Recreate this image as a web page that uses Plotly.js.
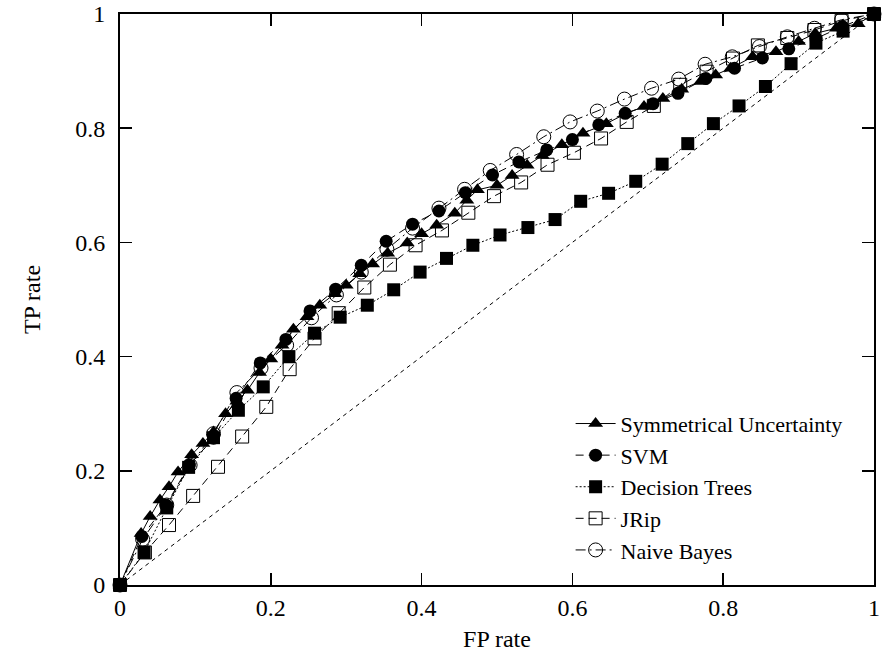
<!DOCTYPE html>
<html>
<head>
<meta charset="utf-8">
<script src="https://cdn.plot.ly/plotly-3.0.1.min.js"></script>
<style>html,body{margin:0;padding:0;background:#fff;}#chart{width:882px;height:658px;}</style>
</head>
<body>
<div id="chart"></div>
<script>
// Symmetrical Uncertainty (triangles, solid)
const suX = [0, 0.028, 0.040, 0.053, 0.065, 0.077, 0.095, 0.110, 0.124, 0.140, 0.155, 0.169, 0.185, 0.200, 0.215, 0.230, 0.248, 0.265, 0.285, 0.300, 0.318, 0.335, 0.355, 0.381, 0.400, 0.420, 0.444, 0.460, 0.474, 0.500, 0.520, 0.540, 0.560, 0.586, 0.614, 0.645, 0.670, 0.695, 0.720, 0.745, 0.770, 0.790, 0.810, 0.839, 0.870, 0.900, 0.922, 0.950, 0.979, 1];
const suY = [0, 0.090, 0.120, 0.149, 0.172, 0.198, 0.228, 0.248, 0.268, 0.300, 0.322, 0.341, 0.372, 0.396, 0.420, 0.448, 0.470, 0.490, 0.510, 0.525, 0.545, 0.562, 0.581, 0.599, 0.615, 0.630, 0.651, 0.674, 0.692, 0.700, 0.717, 0.735, 0.752, 0.771, 0.791, 0.808, 0.825, 0.838, 0.852, 0.868, 0.882, 0.893, 0.905, 0.925, 0.934, 0.952, 0.966, 0.975, 0.983, 1];
// SVM (filled circles, dashed)
const svmX = [0, 0.029, 0.061, 0.092, 0.124, 0.154, 0.186, 0.220, 0.252, 0.286, 0.320, 0.353, 0.388, 0.423, 0.458, 0.494, 0.529, 0.566, 0.600, 0.635, 0.670, 0.707, 0.740, 0.777, 0.815, 0.852, 0.887, 0.923, 0.958, 1];
const svmY = [0, 0.085, 0.140, 0.210, 0.257, 0.327, 0.389, 0.430, 0.480, 0.518, 0.560, 0.602, 0.632, 0.655, 0.687, 0.718, 0.741, 0.762, 0.780, 0.806, 0.826, 0.843, 0.861, 0.887, 0.905, 0.923, 0.939, 0.957, 0.978, 1];
// Decision Trees (filled squares, dotted)
const dtX = [0, 0.032, 0.062, 0.091, 0.124, 0.157, 0.190, 0.224, 0.258, 0.292, 0.328, 0.363, 0.398, 0.433, 0.468, 0.504, 0.541, 0.577, 0.611, 0.648, 0.684, 0.719, 0.753, 0.787, 0.821, 0.856, 0.890, 0.923, 0.959, 1];
const dtY = [0, 0.057, 0.135, 0.206, 0.258, 0.306, 0.347, 0.400, 0.441, 0.469, 0.490, 0.517, 0.548, 0.572, 0.595, 0.613, 0.626, 0.640, 0.672, 0.686, 0.707, 0.737, 0.773, 0.808, 0.839, 0.873, 0.913, 0.949, 0.970, 1];
// JRip (open squares, dashed)
const jripX = [0, 0.033, 0.065, 0.097, 0.130, 0.162, 0.194, 0.225, 0.258, 0.290, 0.324, 0.358, 0.392, 0.427, 0.462, 0.496, 0.532, 0.567, 0.602, 0.638, 0.672, 0.708, 0.743, 0.778, 0.813, 0.846, 0.885, 0.921, 0.957, 1];
const jripY = [0, 0.057, 0.105, 0.156, 0.207, 0.260, 0.312, 0.378, 0.432, 0.476, 0.521, 0.561, 0.595, 0.621, 0.652, 0.681, 0.705, 0.736, 0.757, 0.782, 0.811, 0.839, 0.876, 0.899, 0.922, 0.945, 0.958, 0.972, 0.988, 1];
// Naive Bayes (open circles, dash-dot)
const nbX = [0, 0.030, 0.062, 0.093, 0.124, 0.155, 0.187, 0.221, 0.254, 0.287, 0.320, 0.354, 0.388, 0.423, 0.457, 0.491, 0.526, 0.562, 0.597, 0.633, 0.669, 0.705, 0.741, 0.776, 0.812, 0.848, 0.885, 0.921, 0.957, 1];
const nbY = [0, 0.080, 0.140, 0.210, 0.265, 0.337, 0.380, 0.420, 0.468, 0.508, 0.548, 0.588, 0.625, 0.660, 0.693, 0.726, 0.754, 0.785, 0.811, 0.830, 0.851, 0.870, 0.886, 0.912, 0.925, 0.943, 0.960, 0.975, 0.990, 1];
// Random-classifier diagonal
const diagX = [0, 1];
const diagY = [0, 1];
const seriesNames = ['Symmetrical Uncertainty', 'SVM', 'Decision Trees', 'JRip', 'Naive Bayes'];
const tickVals = [0, 0.2, 0.4, 0.6, 0.8, 1];
const tickText = ['0', '0.2', '0.4', '0.6', '0.8', '1'];

const FONT = '"Liberation Serif", "Times New Roman", serif';
function tr(x, y, name, symbol, size, dash, lw) {
  return {
    x: x, y: y, name: name, type: 'scatter', mode: 'lines+markers',
    cliponaxis: false, hoverinfo: 'skip',
    line: {color: '#000', width: 1, dash: dash},
    marker: {symbol: symbol, size: size, color: '#000', line: {color: '#000', width: lw}}
  };
}
const data = [
  {x: diagX, y: diagY, name: 'random', type: 'scatter', mode: 'lines', showlegend: false,
   hoverinfo: 'skip', line: {color: '#000', width: 1, dash: '4px,4px'}},
  tr(suX, suY, seriesNames[0], 'triangle-up', 13, 'solid', 0),
  tr(svmX, svmY, seriesNames[1], 'circle', 13, '8px,5px', 0),
  tr(dtX, dtY, seriesNames[2], 'square', 13, '2px,2px', 0),
  tr(jripX, jripY, seriesNames[3], 'square-open', 13, '8px,5px', 1),
  tr(nbX, nbY, seriesNames[4], 'circle-open', 14, '10px,4px,2px,4px', 1)
];
const axisCommon = {
  range: [0, 1], tickvals: tickVals, ticktext: tickText,
  ticks: 'inside', ticklen: 12, tickwidth: 1.5, tickcolor: '#000',
  showline: true, linewidth: 2, linecolor: '#000', mirror: 'ticks',
  showgrid: false, zeroline: false, automargin: false,
  ticklabeloverflow: 'allow',
  tickfont: {family: FONT, size: 24, color: '#000'}
};
const layout = {
  width: 882, height: 658,
  margin: {l: 120, r: 8, t: 14, b: 73, pad: 0},
  paper_bgcolor: '#fff', plot_bgcolor: '#fff',
  font: {family: FONT, size: 24, color: '#000'},
  xaxis: Object.assign({}, axisCommon, {
    ticklabelstandoff: 0,
    title: {text: 'FP rate', font: {family: FONT, size: 24, color: '#000'}, standoff: 10}
  }),
  yaxis: Object.assign({}, axisCommon, {
    ticklabelstandoff: 8,
    title: {text: 'TP rate', font: {family: FONT, size: 24, color: '#000'}, standoff: 28}
  }),
  legend: {
    x: 0.965, xanchor: 'right', y: 0.025, yanchor: 'bottom',
    bgcolor: 'rgba(0,0,0,0)', borderwidth: 0,
    font: {family: FONT, size: 22, color: '#000'},
    traceorder: 'normal', itemwidth: 40
  },
  showlegend: true
};
Plotly.newPlot('chart', data, layout, {displayModeBar: false, staticPlot: true});
</script>
</body>
</html>
